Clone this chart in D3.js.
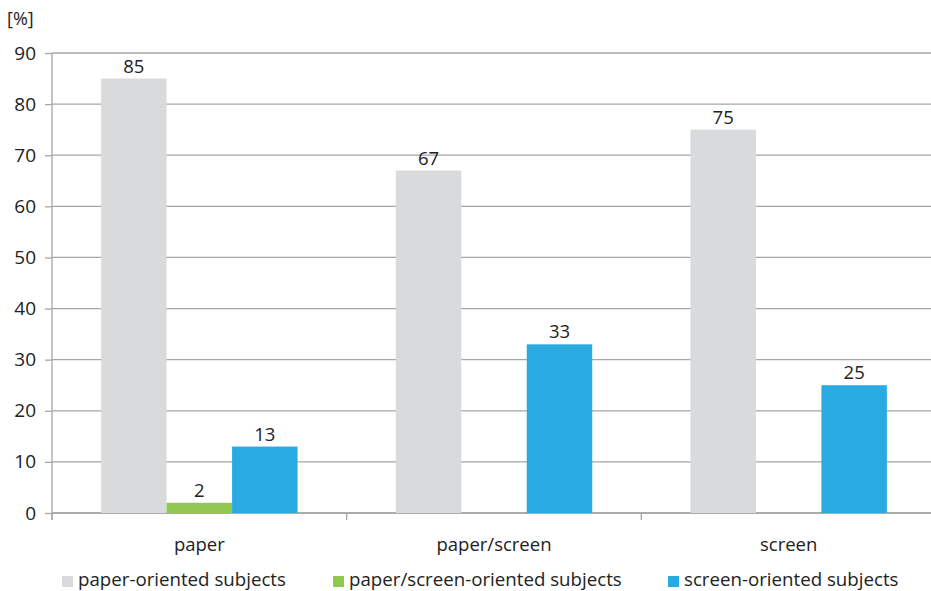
<!DOCTYPE html>
<html><head><meta charset="utf-8">
<script src="https://cdn.jsdelivr.net/npm/d3@7"></script>
<style>body{margin:0;background:#fff}svg{display:block}text{font-family:"Open Sans",sans-serif;fill:#222}</style>
</head><body><svg width="931" height="591"></svg>
<script>
const categories = ["paper", "paper/screen", "screen"];
const seriesNames = ["paper-oriented subjects", "paper/screen-oriented subjects", "screen-oriented subjects"];
const paperOriented = [85, 67, 75];
const paperScreenOriented = [2, 0, 0];
const screenOriented = [13, 33, 25];
const yTicks = [0, 10, 20, 30, 40, 50, 60, 70, 80, 90];
const colors = ["#d9dadb", "#92c852", "#29abe2"];

(function(){
const series = [paperOriented, paperScreenOriented, screenOriented];
const svg = d3.select("svg");
const pL = 52, pR = 936, pT = 53, pB = 513;
const x = d3.scaleBand().domain(categories).range([pL, pR]).paddingInner(0).paddingOuter(0);
const y = d3.scaleLinear().domain([0, 90]).range([pB, pT]);
const bw = x.bandwidth() / 4.5;
const xs = d3.scaleBand().domain(d3.range(3)).range([0.75 * bw, 3.75 * bw]);

// gridlines
svg.append("g").selectAll("line").data(yTicks).join("line")
  .attr("x1", pL).attr("x2", 931).attr("y1", d => y(d)).attr("y2", d => y(d))
  .attr("stroke", "#a6a6a6").attr("stroke-width", 1.3);

// y axis
const ya = svg.append("g").attr("transform", `translate(${pL},0)`)
  .call(d3.axisLeft(y).tickValues(yTicks).tickSize(7).tickPadding(9));
ya.select(".domain").attr("stroke", "#a6a6a6").attr("stroke-width", 1.3).attr("d", `M0,${pT}V${pB + 7}`);
ya.selectAll(".tick line").attr("stroke", "#a6a6a6").attr("stroke-width", 1.3);
ya.selectAll("text").attr("font-size", 19).attr("fill", "#222").attr("font-family", "Open Sans");

// x axis ticks at boundaries
const xb = [pL, pL + x.step(), pL + 2 * x.step()];
svg.append("g").selectAll("line").data(xb).join("line")
  .attr("x1", d => d).attr("x2", d => d).attr("y1", pB).attr("y2", pB + 7)
  .attr("stroke", "#a6a6a6").attr("stroke-width", 1.3);
svg.append("line").attr("x1", pL).attr("x2", 931).attr("y1", pB).attr("y2", pB)
  .attr("stroke", "#a6a6a6").attr("stroke-width", 1.3);

// bars
series.forEach((vals, si) => {
  const g = svg.append("g");
  categories.forEach((c, ci) => {
    const v = vals[ci];
    if (v <= 0) return;
    const bx = x(c) + xs(si);
    g.append("rect").attr("x", bx).attr("width", xs.bandwidth())
      .attr("y", y(v)).attr("height", y(0) - y(v)).attr("fill", colors[si]);
    g.append("text").attr("x", bx + xs.bandwidth() / 2).attr("y", y(v) - 6)
      .attr("text-anchor", "middle").attr("font-size", 18.5).text(v);
  });
});

// category labels
svg.append("g").selectAll("text").data(categories).join("text")
  .attr("x", d => x(d) + x.bandwidth() / 2).attr("y", 551)
  .attr("text-anchor", "middle").attr("font-size", 18.5).text(d => d);

// [%]
svg.append("text").attr("x", 7).attr("y", 25).attr("font-size", 18).text("[%]");

// legend
const lx = [62, 333, 668];
const lg = svg.append("g").selectAll("g").data(seriesNames).join("g")
  .attr("transform", (d, i) => `translate(${lx[i]},0)`);
lg.append("rect").attr("x", 0).attr("y", 576).attr("width", 11).attr("height", 11)
  .attr("fill", (d, i) => colors[i]);
lg.append("text").attr("x", 16).attr("y", 586).attr("font-size", 18.7).text(d => d);
})();
</script></body></html>
